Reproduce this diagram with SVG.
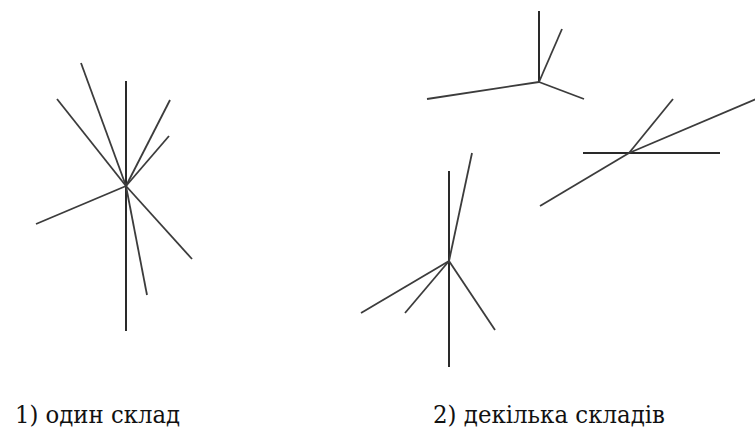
<svg xmlns="http://www.w3.org/2000/svg" width="755" height="430" viewBox="0 0 755 430">
  <style>
    .ray { stroke: #3c3c3c; stroke-width: 1.8; stroke-linecap: butt; fill: none; }
    .axis { stroke: #2a2a2a; stroke-width: 2; }
    .label { font-family: "DejaVu Serif", "Liberation Serif", serif; font-size: 24px; fill: #111; }
  </style>
  <rect width="755" height="430" fill="#ffffff"/>

  <!-- single-warehouse star -->
  <g id="star-single">
    <line class="ray axis" x1="126" y1="81" x2="126" y2="331"/>
    <line class="ray" x1="126" y1="186" x2="81" y2="63"/>
    <line class="ray" x1="126" y1="186" x2="57" y2="99"/>
    <line class="ray" x1="126" y1="186" x2="170" y2="100"/>
    <line class="ray" x1="126" y1="186" x2="169" y2="136"/>
    <line class="ray" x1="126" y1="186" x2="36" y2="224"/>
    <line class="ray" x1="126" y1="186" x2="192" y2="259"/>
    <line class="ray" x1="126" y1="186" x2="147" y2="295"/>
  </g>

  <!-- multi-warehouse stars -->
  <g id="star-top">
    <line class="ray axis" x1="539" y1="11" x2="539" y2="82"/>
    <line class="ray" x1="539" y1="82" x2="562" y2="29"/>
    <line class="ray" x1="539" y1="82" x2="427" y2="99"/>
    <line class="ray" x1="539" y1="82" x2="584" y2="99"/>
  </g>

  <g id="star-right">
    <line class="ray axis" x1="583" y1="153" x2="720" y2="153"/>
    <line class="ray" x1="629" y1="153" x2="673" y2="99"/>
    <line class="ray" x1="629" y1="153" x2="756" y2="99"/>
    <line class="ray" x1="629" y1="153" x2="540" y2="206"/>
  </g>

  <g id="star-bottom">
    <line class="ray axis" x1="449" y1="171" x2="449" y2="367"/>
    <line class="ray" x1="449" y1="261" x2="472" y2="153"/>
    <line class="ray" x1="449" y1="261" x2="361" y2="313"/>
    <line class="ray" x1="449" y1="261" x2="405" y2="313"/>
    <line class="ray" x1="449" y1="261" x2="495" y2="330"/>
  </g>

  <g id="captions">
    <text class="label" x="15" y="423" textLength="165" lengthAdjust="spacingAndGlyphs">1) один склад</text>
    <text class="label" x="433" y="423" textLength="232" lengthAdjust="spacingAndGlyphs">2) декілька складів</text>
  </g>
</svg>
